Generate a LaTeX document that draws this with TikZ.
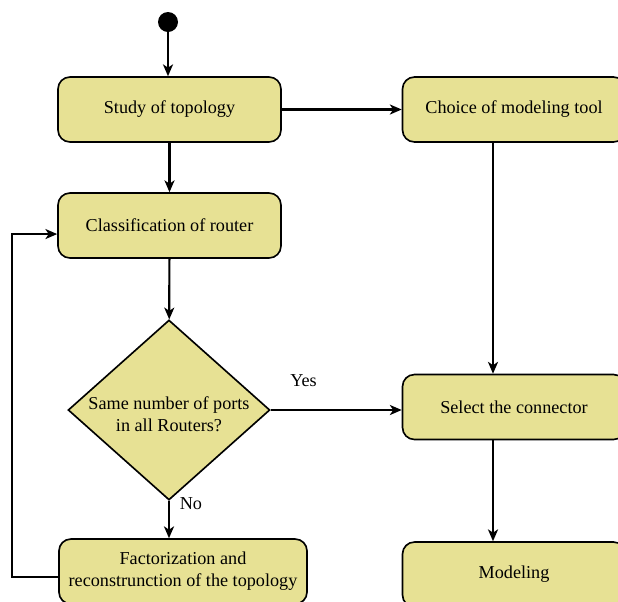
\documentclass[tikz,border=0pt]{standalone}
\usepackage{fontspec}
\setmainfont{Liberation Serif}
\usetikzlibrary{arrows.meta,shapes.geometric}
\definecolor{boxfill}{RGB}{231,225,148}

\begin{document}
\begin{tikzpicture}[x=0.55pt,y=-0.55pt,
    activity/.style={shape=rectangle,rounded corners=6.5pt,draw=black,line width=0.9pt,fill=boxfill,minimum width=122.6pt,minimum height=35.7pt,align=center},
    decision/.style={shape=diamond,draw=black,line width=0.9pt,fill=boxfill,minimum width=111pt,minimum height=99pt,inner sep=0pt},
    flow/.style={line width=1.2pt,-{Stealth[length=6.5pt,width=5.5pt,inset=1.8pt]}}]
      \useasboundingbox (0,0) rectangle (618,601);

      \node[shape=circle,fill=black,minimum size=11pt,inner sep=0pt] (start) at (168,22) {};
      \node[activity] (st) at (169.5,109.5) {Study of topology};
      \node[activity] (ch) at (514,109.5) {Choice of modeling tool};
      \node[activity] (cl) at (169.5,225.5) {Classification of router};
      \node[decision] (dec) at (169,410) {};
      \node[align=center] (q) at (169,414) {Same number of ports\\in all Routers?};
      \node[activity] (sel) at (514,407) {Select the connector};
      \node[activity,minimum width=136.4pt] (fac) at (183,571.5) {Factorization and\\reconstrunction of the topology};
      \node[activity] (mod) at (514,574.5) {Modeling};
      \coordinate (rc) at (493,0);
      \coordinate (back) at (12,0);

      \draw[flow] (start) -- (start |- st.north);
      \draw[flow] (st) -- (ch);
      \draw[flow] (st) -- (cl);
      \draw[flow] (cl) -- (dec);
      \draw[flow] (dec.east) -- node[pos=0.25,above=9pt] {Yes} (dec.east -| sel.west);
      \draw[flow] (dec.south) -- node[pos=0.08,right=2pt] {No} (dec.south |- fac.north);
      \draw[flow] (ch.south -| rc) -- (sel.north -| rc);
      \draw[flow] (sel.south -| rc) -- (mod.north -| rc);
      \draw[flow] ([yshift=-3pt]fac.west) -- ([yshift=-3pt]fac.west -| back) |- ([yshift=-4.7pt]cl.west);
  \end{tikzpicture}
\end{document}
